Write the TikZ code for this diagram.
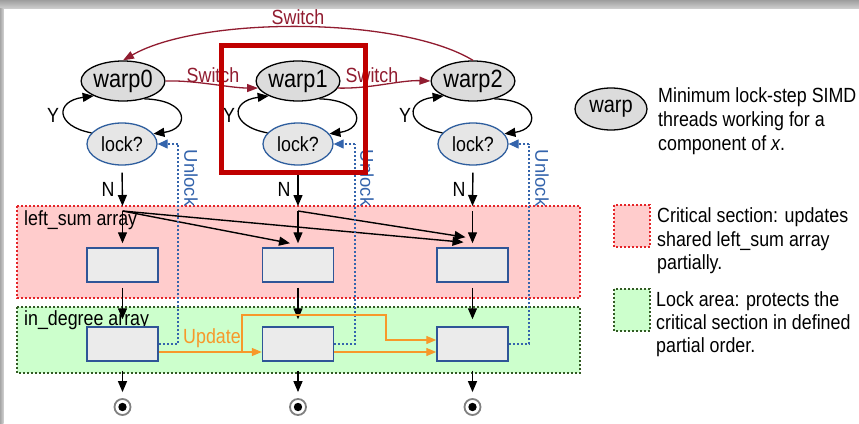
\documentclass[tikz,border=0pt]{standalone}
\usepackage{fontspec}
\setmainfont{Liberation Sans}[FakeStretch=0.87]
\newfontfamily\plainsans{Liberation Sans}
\usetikzlibrary{shapes.geometric,arrows.meta,calc}

\definecolor{switchred}{RGB}{145,28,48}
\definecolor{hilite}{RGB}{192,0,0}
\definecolor{warpgray}{RGB}{220,220,220}
\definecolor{lockgray}{RGB}{230,230,230}
\definecolor{lockblue}{RGB}{46,94,158}
\definecolor{cellblue}{RGB}{47,85,151}
\definecolor{cellgray}{RGB}{235,235,235}
\definecolor{critfill}{RGB}{255,204,204}
\definecolor{critline}{RGB}{228,36,40}
\definecolor{lockfill}{RGB}{204,255,204}
\definecolor{lockline}{RGB}{50,90,35}
\definecolor{updorange}{RGB}{247,152,42}
\definecolor{unlockblue}{RGB}{52,100,172}

\newcommand\lblfont{\fontsize{20.5}{24}\selectfont}
\newcommand\warpfont{\fontsize{25}{28}\selectfont}
\newcommand\unlockfont{\plainsans\fontsize{18.5}{22}\selectfont}

\begin{document}
\begin{tikzpicture}[x=1pt,y=-1pt,
  warpnode/.style={ellipse, draw=black, fill=warpgray, line width=1.3pt,
    minimum width=71pt, minimum height=40pt, inner sep=0pt, font=\warpfont},
  locknode/.style={ellipse, draw=lockblue, fill=lockgray, line width=1.3pt,
    minimum width=70pt, minimum height=42pt, inner sep=0pt, font=\lblfont},
  cell/.style={rectangle, draw=cellblue, fill=cellgray, line width=1.5pt,
    minimum width=71pt, minimum height=34pt, inner sep=0pt},
  txt/.style={inner sep=0pt, font=\lblfont},
  legtxt/.style={inner sep=0pt, anchor=base west, font=\lblfont},
  arr/.style={line width=1.4pt, -{Triangle[length=11pt,width=9pt]}},
  swarr/.style={draw=switchred, line width=1.3pt, -{Triangle[length=11pt,width=8pt]}},
  updarr/.style={draw=updorange, line width=1.4pt, -{Triangle[length=10pt,width=8pt]}},
  unlockline/.style={draw=unlockblue, line width=1.2pt, dash pattern=on 2pt off 2pt},
  endmark/.style={circle, draw=gray, fill=white, line width=1.8pt,
    minimum size=16pt, inner sep=0pt}
]
\useasboundingbox (0,0) rectangle (859,423);

% page panel with its shadow bands
\fill[white] (0,0) rectangle (859,423);
\shade[top color=black!38, bottom color=black!20] (0,0) rectangle (859,8);
\shade[left color=black!35, right color=black!18] (0,8) rectangle (3.5,423);

% shaded areas
\fill[critfill] (17,206) rectangle (580,298);
\draw[critline, line width=1.2pt, dash pattern=on 2pt off 2pt] (17,206) rectangle (580,298);
\fill[lockfill] (17,307) rectangle (580,373);
\draw[lockline, line width=1.2pt, dash pattern=on 2pt off 2pt] (17,307) rectangle (580,373);
\node[txt, anchor=base west] (lsum) at (24,225) {left\_sum array};
\node[txt, anchor=base west] (indeg) at (24,325) {in\_degree array};

% warps and lock checks
\node[warpnode] (w0) at (123,81) {warp0};
\node[warpnode] (w1) at (298,81) {warp1};
\node[warpnode] (w2) at (473,81) {warp2};
\node[locknode] (l0) at (122,144) {lock?};
\node[locknode] (l1) at (298,144) {lock?};
\node[locknode] (l2) at (473,144) {lock?};

% array cells
\node[cell] (b0) at (122.5,265) {};
\node[cell] (b1) at (298,265) {};
\node[cell] (b2) at (472.5,265) {};
\node[cell] (g0) at (122.5,344) {};
\node[cell] (g1) at (298,344) {};
\node[cell] (g2) at (472.5,344) {};

% end markers
\foreach \i/\x in {0/122.5,1/298,2/472.5}{
  \node[endmark] (e\i) at (\x,407) {};
  \fill (e\i) circle (4.2pt);
}

% retry loops between warp and lock check
\foreach \i/\lx in {0/53,1/229,2/405}{
  \draw[arr, line width=1.3pt] (w\i.-40) .. controls ($(w\i.center)+(67,19)$) and ($(w\i.center)+(67,48)$) .. (l\i.18);
  \draw[arr, line width=1.3pt] (l\i.160) .. controls ($(w\i.center)+(-68,45)$) and ($(w\i.center)+(-68,20)$) .. (w\i.207);
  \node[txt] (y\i) at (\lx,115) {Y};
}

% switching between warps
\draw[swarr] (w0.east) .. controls (195,80) and (230,88) .. (w1.190);
\draw[swarr] (w1.-10) .. controls (370,89) and (400,80) .. (w2.west);
\draw[swarr] (w2.north) .. controls (400,16) and (200,16) .. (w0.north);
\node[txt, text=switchred] (sw01) at (213,75) {Switch};
\node[txt, text=switchred] (sw12) at (372,75) {Switch};
\node[txt, text=switchred] (sw20) at (298,17) {Switch};

% lock acquired: enter the critical section
\coordinate (t0) at (122.5,206);
\coordinate (t1) at (298,206);
\coordinate (t2) at (472.5,206);
\coordinate (f0) at (122.5,211);
\coordinate (f1) at (298,211);
\coordinate (f2) at (472.5,211);
\foreach \i/\nx in {0/108,1/284,2/459}{
  \draw[arr, shorten <=7pt] (l\i.south) -- (t\i);
  \node[txt] (n\i) at (\nx,189) {N};
  \draw[arr, shorten >=4pt] (f\i) -- (b\i.north);
  \draw[arr, shorten <=5pt, shorten >=7pt] (b\i.south) -- (g\i.north);
  \draw[arr, shorten <=9pt, shorten >=6pt] (g\i.south) -- (e\i.north);
}
\draw[arr] (f0) -- ($(b1.north)+(-8,-4)$);
\draw[arr] (f0) -- ($(b2.north)+(-9,-5)$);
\draw[arr] (f1) -- ($(b2.north)+(-7,-10)$);

% unlock paths back to the lock checks
\coordinate (u0) at (178,144);
\coordinate (u1) at (355,144);
\coordinate (u2) at (529,144);
\foreach \i/\ux in {0/191,1/367,2/542}{
  \draw[unlockline] (g\i.east) -| (u\i);
  \draw[draw=unlockblue, line width=1.2pt, dash pattern=on 2pt off 2pt,
        -{Triangle[length=10pt,width=9pt]}] (u\i) -- (l\i.east);
  \node[inner sep=0pt, text=unlockblue, font=\unlockfont, rotate=-90] (ul\i) at (\ux,178) {Unlock};
}

% ordered updates of in_degree
\coordinate (ub) at (242,352);
\coordinate (uc) at (386,315);
\draw[updarr] ($(g0.east)+(0,8)$) -- ($(g1.west)+(0,8)$);
\draw[updarr] (ub) |- (uc) |- ($(g2.west)+(0,-4)$);
\draw[updarr] ($(g1.east)+(0,8)$) -- ($(g2.west)+(0,8)$);
\node[txt, text=updorange] (upd) at (212,338) {Update};

% legend
\node[warpnode, minimum width=72pt, minimum height=42pt, font=\fontsize{23}{26}\selectfont] (lw) at (611,109) {warp};
\node[legtxt] (lw1) at (658,102.5) {Minimum lock-step SIMD};
\node[legtxt] (lw2) at (658,126.5) {threads working for a};
\node[legtxt] (lw3) at (658,150.5) {component of \textit{x}.};

\fill[critfill] (614,205) rectangle (650,247);
\draw[critline, line width=1.2pt, dash pattern=on 2pt off 2pt] (614,205) rectangle (650,247);
\node[legtxt] (lc1) at (657,222.5) {Critical section: updates};
\node[legtxt] (lc2) at (657,246) {shared left\_sum array};
\node[legtxt] (lc3) at (657,269.5) {partially.};

\fill[lockfill] (614,289) rectangle (650,331);
\draw[lockline, line width=1.2pt, dash pattern=on 2pt off 2pt] (614,289) rectangle (650,331);
\node[legtxt] (lk1) at (656,306.5) {Lock area: protects the};
\node[legtxt] (lk2) at (656,329.5) {critical section in defined};
\node[legtxt] (lk3) at (656,352.5) {partial order.};

% highlight around warp1
\draw[hilite, line width=5pt] (221.5,45.5) rectangle (365.5,172.5);
\end{tikzpicture}
\end{document}
